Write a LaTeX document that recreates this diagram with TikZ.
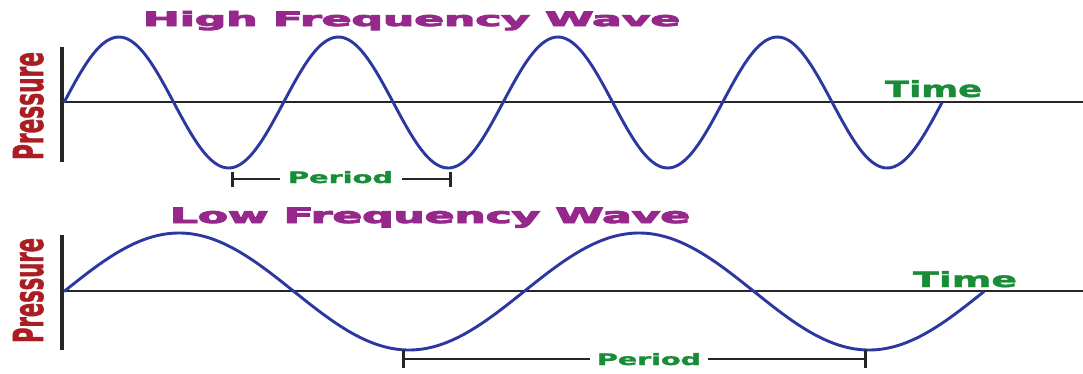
\documentclass[tikz,border=0pt]{standalone}
\usepackage{fontspec}
\setmainfont{DejaVu Sans}
\newfontfamily\heavyfont{DejaVu Sans}[BoldFeatures={FakeBold=1.5}]
\newfontfamily\titlefont{DejaVu Sans}[BoldFeatures={FakeBold=4}]
\definecolor{titlepurple}{RGB}{150,40,140}
\definecolor{labelgreen}{RGB}{25,140,55}
\definecolor{pressred}{RGB}{170,30,35}
\definecolor{waveblue}{RGB}{45,55,160}
\tikzset{
  wave/.style={draw=waveblue, line width=2.9pt, line join=round},
  axisline/.style={draw=black!85, line width=1.8pt},
  axisbar/.style={draw=black!85, line width=3.6pt},
  brace/.style={draw=black!85, line width=1.6pt},
  bracetick/.style={draw=black!85, line width=3pt},
  lbl/.style={inner sep=0pt, outer sep=0pt, anchor=base west},
}
\newcommand{\fitbox}[3]{\resizebox{#1pt}{#2pt}{\heavyfont\bfseries #3}}
\newcommand{\titlebox}[3]{\resizebox{#1pt}{#2pt}{\titlefont\bfseries #3}}
\begin{document}
\begin{tikzpicture}[x=1pt,y=-1pt]
\useasboundingbox (0,0) rectangle (1083,373);
% ---------- High frequency ----------
\node[lbl, text=titlepurple] (th) at (143,26) {\titlebox{537}{15}{High Frequency Wave}};
\node[lbl, text=pressred, rotate=90] (ph) at (43,160) {\fitbox{108}{30}{Pressure}};
\coordinate (hbt) at (62,47);
\coordinate (hbb) at (62,162);
\draw[axisbar] (hbt) -- (hbb);
\coordinate (hax0) at (62,102);
\coordinate (hax1) at (1083,102);
\draw[axisline] (hax0) -- (hax1);
\draw[wave] plot[domain=64:942, samples=300, smooth] (\x, {102.5 - 65.5*sin((\x-64)/219.5*360)});
\node[lbl, text=labelgreen] (timeh) at (885,97) {\fitbox{97}{17}{Time}};
\node[lbl, text=labelgreen] (perh) at (288,183) {\fitbox{105}{12}{Period}};
\coordinate (phl) at (232,179);
\coordinate (phr) at (450,179);
\draw[brace] (phl) -- (280,179);
\draw[brace] (402,179) -- (phr);
\draw[bracetick] (232,172) -- (232,187);
\draw[bracetick] (450,172) -- (450,187);
% ---------- Low frequency ----------
\node[lbl, text=titlepurple] (tl) at (170,223) {\titlebox{520}{15.5}{Low Frequency Wave}};
\node[lbl, text=pressred, rotate=90] (pl) at (43,343) {\fitbox{105}{30}{Pressure}};
\coordinate (lbt) at (62,235);
\coordinate (lbb) at (62,350);
\draw[axisbar] (lbt) -- (lbb);
\coordinate (lax0) at (62,291);
\coordinate (lax1) at (1083,291);
\draw[axisline] (lax0) -- (lax1);
\draw[wave] plot[domain=64:984, samples=300, smooth] (\x, {291.5 - 58.5*sin((\x-64)/460*360)});
\node[lbl, text=labelgreen] (timel) at (913,287) {\fitbox{104}{16}{Time}};
\node[lbl, text=labelgreen] (perl) at (597,365) {\fitbox{104}{12}{Period}};
\draw[brace] (403,359) -- (590,359);
\draw[brace] (708,359) -- (865,359);
\draw[bracetick] (403,350) -- (403,368);
\draw[bracetick] (865,350) -- (865,368);
\end{tikzpicture}
\end{document}
